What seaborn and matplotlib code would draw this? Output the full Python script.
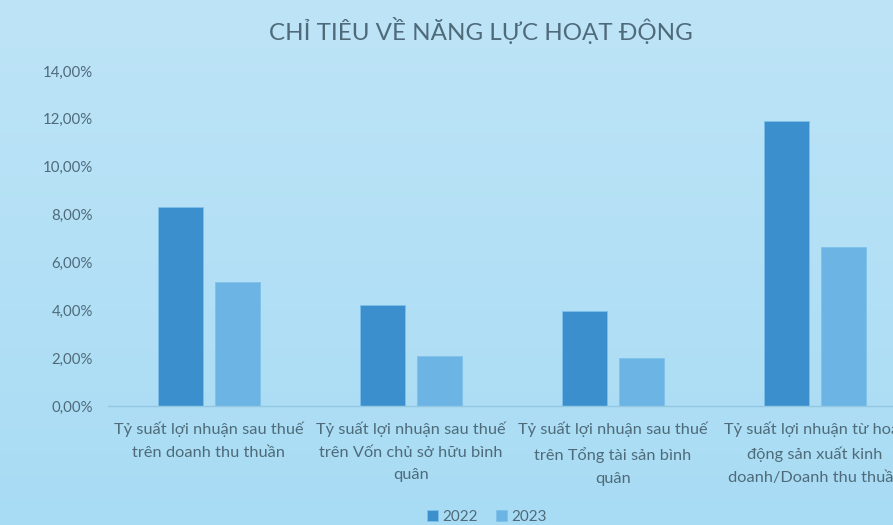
import numpy as np
import pandas as pd
import matplotlib
matplotlib.use("Agg")
import matplotlib.pyplot as plt
import seaborn as sns
from matplotlib.ticker import FuncFormatter

categories = [
    "Tỷ suất lợi nhuận sau thuế\ntrên doanh thu thuần",
    "Tỷ suất lợi nhuận sau thuế\ntrên Vốn chủ sở hữu bình\nquân",
    "Tỷ suất lợi nhuận sau thuế\ntrên Tổng tài sản bình\nquân",
    "Tỷ suất lợi nhuận từ hoạt\nđộng sản xuất kinh\ndoanh/Doanh thu thuần",
]
years = ["2022", "2023"]
values_2022 = [0.0832, 0.0422, 0.0397, 0.1191]
values_2023 = [0.0518, 0.0209, 0.0200, 0.0664]
yticks = [0.0, 0.02, 0.04, 0.06, 0.08, 0.10, 0.12, 0.14]
title = "CHỈ TIÊU VỀ NĂNG LỰC HOẠT ĐỘNG"

df = pd.DataFrame({
    "category": categories * 2,
    "year": [years[0]] * 4 + [years[1]] * 4,
    "value": values_2022 + values_2023,
})

sns.set_theme(style="white")
plt.rcParams["font.family"] = ["Lato", "DejaVu Sans"]

W, H = 893, 525
fig = plt.figure(figsize=(W / 100, H / 100), dpi=100)

# background gradient
bg = fig.add_axes([0, 0, 1, 1], zorder=-10)
top = np.array([0xBE, 0xE4, 0xF7]) / 255
bot = np.array([0xA8, 0xDC, 0xF4]) / 255
t = np.linspace(0, 1, 256)[:, None]
grad = top[None, :] * (1 - t) + bot[None, :] * t
bg.imshow(np.repeat(grad[:, None, :], 4, axis=1), aspect="auto", extent=[0, 1, 0, 1])
bg.axis("off")

ax = fig.add_axes([108 / W, 119 / H, 808 / W, 335 / H])
ax.set_facecolor("none")

palette = {"2022": "#3A8FCC", "2023": "#6CB4E4"}
sns.barplot(data=df, x="category", y="value", hue="year", palette=palette,
            width=0.564, gap=0.21, ax=ax, saturation=1,
            edgecolor="#7FC0EA", linewidth=0.6, legend=True)

ax.set_ylim(0, 0.14)
ax.set_xlim(-0.5, 3.5)
ax.set_yticks(yticks)
ax.yaxis.set_major_formatter(FuncFormatter(lambda v, p: f"{v*100:.2f}%".replace(".", ",")))
ax.set_xlabel("")
ax.set_ylabel("")
for s in ["top", "right", "left"]:
    ax.spines[s].set_visible(False)
ax.spines["bottom"].set_color("#93C8E4")
ax.spines["bottom"].set_linewidth(1.0)
ax.tick_params(axis="y", length=0, pad=11, labelsize=10.8, labelcolor="#4F6B7A")
ax.tick_params(axis="x", length=0, pad=11, labelsize=11.8, labelcolor="#4F6B7A")
for lab in ax.get_xticklabels():
    lab.set_linespacing(1.8)
ax.grid(False)

handles, labels = ax.get_legend_handles_labels()
ax.get_legend().remove()
fig.legend(handles, labels, loc="center", bbox_to_anchor=(487 / W, 1 - 517 / H),
           ncol=2, frameon=False, fontsize=11, labelcolor="#4F6B7A",
           handlelength=0.7, handleheight=0.7, handletextpad=0.3, columnspacing=1.2)

fig.text(481 / W, 1 - 30 / H, title, ha="center", va="center",
         fontsize=17.4, color="#4F6B7A")

fig.savefig("out.png", dpi=100)
